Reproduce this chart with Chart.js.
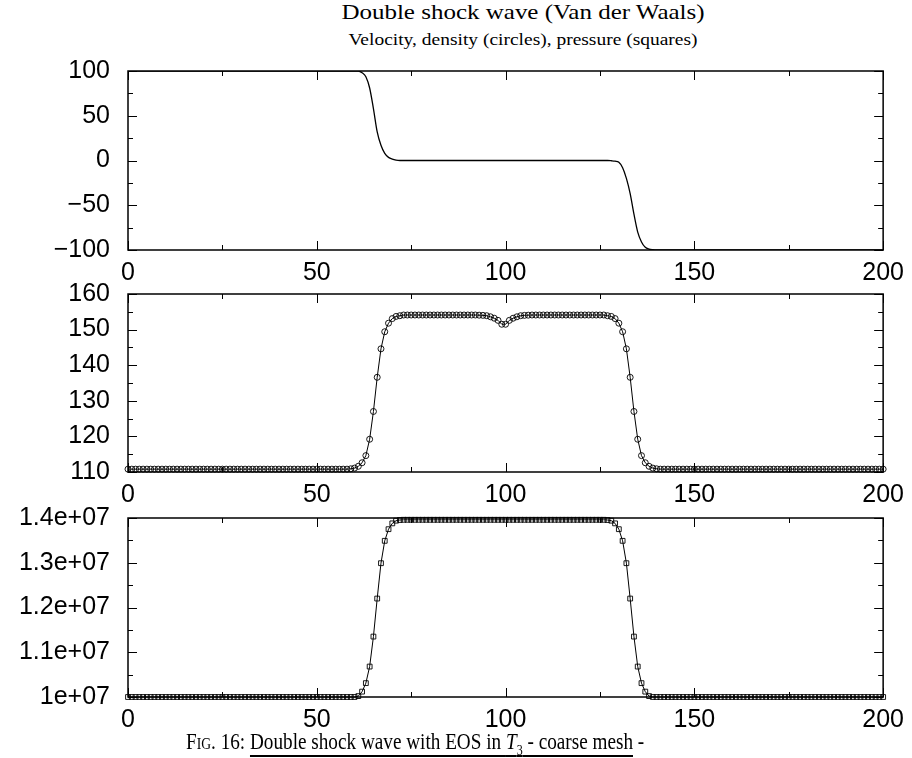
<!DOCTYPE html>
<html>
<head>
<meta charset="utf-8">
<script src="https://cdn.jsdelivr.net/npm/chart.js@4.4.1/dist/chart.umd.min.js"></script>
<style>
  html, body { margin: 0; padding: 0; background: #fff; }
  #page { position: relative; width: 912px; height: 758px; overflow: hidden; background: #fff; }
  canvas { position: absolute; left: 0; }
  .serif { position: absolute; font-family: "Liberation Serif", serif; color: #000; white-space: nowrap; line-height: 1; }
  .cap u { text-decoration-thickness: 2px; text-underline-offset: 6px; }
</style>
</head>
<body>
<div id="page">
  <div class="serif" style="left:523px; top:2px; font-size:21px; transform:translateX(-50%) scaleX(1.19);">Double shock wave (Van der Waals)</div>
  <div class="serif" style="left:523px; top:32px; font-size:16.5px; transform:translateX(-50%) scaleX(1.18);">Velocity, density (circles), pressure (squares)</div>
  <canvas id="vel" width="912" height="248" style="top:37px"></canvas>
  <canvas id="rho" width="912" height="247" style="top:260px"></canvas>
  <canvas id="prs" width="912" height="248" style="top:484px"></canvas>
  <div class="serif cap" style="left:186px; top:729px; font-size:24px; transform-origin:0 50%; transform:scaleX(0.80);"><span style="font-variant:small-caps">Fig</span>. 16: <u>Double shock wave with EOS in <i>T</i><sub style="font-size:15px">3</sub> - coarse mesh</u> -</div>
</div>
<script>
// mesh abscissae (cell index)
const xs = [
  0,1,2,3,4,5,6,7,8,9,
  10,11,12,13,14,15,16,17,18,19,
  20,21,22,23,24,25,26,27,28,29,
  30,31,32,33,34,35,36,37,38,39,
  40,41,42,43,44,45,46,47,48,49,
  50,51,52,53,54,55,56,57,58,59,
  60,61,62,63,64,65,66,67,68,69,
  70,71,72,73,74,75,76,77,78,79,
  80,81,82,83,84,85,86,87,88,89,
  90,91,92,93,94,95,96,97,98,99,
  100,101,102,103,104,105,106,107,108,109,
  110,111,112,113,114,115,116,117,118,119,
  120,121,122,123,124,125,126,127,128,129,
  130,131,132,133,134,135,136,137,138,139,
  140,141,142,143,144,145,146,147,148,149,
  150,151,152,153,154,155,156,157,158,159,
  160,161,162,163,164,165,166,167,168,169,
  170,171,172,173,174,175,176,177,178,179,
  180,181,182,183,184,185,186,187,188,189,
  190,191,192,193,194,195,196,197,198,199,
  200
];

const velocity = [
  100,100,100,100,100,100,100,100,100,100,
  100,100,100,100,100,100,100,100,100,100,
  100,100,100,100,100,100,100,100,100,100,
  100,100,100,100,100,100,100,100,100,100,
  100,100,100,100,100,100,100,100,100,100,
  100,100,100,100,100,100,100,100,100,100,
  100,100,98,93.6,81,58,32,17,8,3.5,
  1.5,0.4,0,0,0,0,0,0,0,0,
  0,0,0,0,0,0,0,0,0,0,
  0,0,0,0,0,0,0,0,0,0,
  0,0,0,0,0,0,0,0,0,0,
  0,0,0,0,0,0,0,0,0,0,
  0,0,0,0,0,0,0,0,-0.3,-0.8,
  -2,-8,-20,-37,-60,-80,-91,-97,-99,-99.7,
  -100,-100,-100,-100,-100,-100,-100,-100,-100,-100,
  -100,-100,-100,-100,-100,-100,-100,-100,-100,-100,
  -100,-100,-100,-100,-100,-100,-100,-100,-100,-100,
  -100,-100,-100,-100,-100,-100,-100,-100,-100,-100,
  -100,-100,-100,-100,-100,-100,-100,-100,-100,-100,
  -100,-100,-100,-100,-100,-100,-100,-100,-100,-100,
  -100
];

const density = [
  110.8,110.8,110.8,110.8,110.8,110.8,110.8,110.8,110.8,110.8,
  110.8,110.8,110.8,110.8,110.8,110.8,110.8,110.8,110.8,110.8,
  110.8,110.8,110.8,110.8,110.8,110.8,110.8,110.8,110.8,110.8,
  110.8,110.8,110.8,110.8,110.8,110.8,110.8,110.8,110.8,110.8,
  110.8,110.8,110.8,110.8,110.8,110.8,110.8,110.8,110.8,110.8,
  110.8,110.8,110.8,110.8,110.8,110.8,110.8,110.8,110.8,110.9,
  111.1,111.6,112.6,114.6,119.2,127,136.6,144.6,149.4,151.8,
  153.1,153.7,153.9,154.1,154.1,154.1,154.1,154.1,154.1,154.1,
  154.1,154.1,154.1,154.1,154.1,154.1,154.1,154.1,154.1,154.1,
  154.1,154.1,154.1,154.05,154,153.9,153.6,153.2,152.6,151.5,
  151.5,152.6,153.2,153.6,153.9,154,154.05,154.1,154.1,154.1,
  154.1,154.1,154.1,154.1,154.1,154.1,154.1,154.1,154.1,154.1,
  154.1,154.1,154.1,154.1,154.1,154.1,154.1,153.9,153.7,153.1,
  151.8,149.4,144.6,136.6,127,119.2,114.6,112.6,111.6,111.1,
  110.9,110.8,110.8,110.8,110.8,110.8,110.8,110.8,110.8,110.8,
  110.8,110.8,110.8,110.8,110.8,110.8,110.8,110.8,110.8,110.8,
  110.8,110.8,110.8,110.8,110.8,110.8,110.8,110.8,110.8,110.8,
  110.8,110.8,110.8,110.8,110.8,110.8,110.8,110.8,110.8,110.8,
  110.8,110.8,110.8,110.8,110.8,110.8,110.8,110.8,110.8,110.8,
  110.8,110.8,110.8,110.8,110.8,110.8,110.8,110.8,110.8,110.8,
  110.8
];

const pressure = [
  1e7,1e7,1e7,1e7,1e7,1e7,1e7,1e7,1e7,1e7,
  1e7,1e7,1e7,1e7,1e7,1e7,1e7,1e7,1e7,1e7,
  1e7,1e7,1e7,1e7,1e7,1e7,1e7,1e7,1e7,1e7,
  1e7,1e7,1e7,1e7,1e7,1e7,1e7,1e7,1e7,1e7,
  1e7,1e7,1e7,1e7,1e7,1e7,1e7,1e7,1e7,1e7,
  1e7,1e7,1e7,1e7,1e7,1e7,1e7,1e7,1e7,1e7,
  1e7,1.002e7,1.012e7,1.031e7,1.068e7,1.135e7,1.22e7,1.299e7,1.349e7,1.375e7,
  1.388e7,1.394e7,1.3955e7,1.396e7,1.396e7,1.396e7,1.396e7,1.396e7,1.396e7,1.396e7,
  1.396e7,1.396e7,1.396e7,1.396e7,1.396e7,1.396e7,1.396e7,1.396e7,1.396e7,1.396e7,
  1.396e7,1.396e7,1.396e7,1.396e7,1.396e7,1.396e7,1.396e7,1.396e7,1.396e7,1.396e7,
  1.396e7,1.396e7,1.396e7,1.396e7,1.396e7,1.396e7,1.396e7,1.396e7,1.396e7,1.396e7,
  1.396e7,1.396e7,1.396e7,1.396e7,1.396e7,1.396e7,1.396e7,1.396e7,1.396e7,1.396e7,
  1.396e7,1.396e7,1.396e7,1.396e7,1.396e7,1.396e7,1.396e7,1.3955e7,1.394e7,1.388e7,
  1.375e7,1.349e7,1.299e7,1.22e7,1.135e7,1.068e7,1.031e7,1.012e7,1.002e7,1e7,
  1e7,1e7,1e7,1e7,1e7,1e7,1e7,1e7,1e7,1e7,
  1e7,1e7,1e7,1e7,1e7,1e7,1e7,1e7,1e7,1e7,
  1e7,1e7,1e7,1e7,1e7,1e7,1e7,1e7,1e7,1e7,
  1e7,1e7,1e7,1e7,1e7,1e7,1e7,1e7,1e7,1e7,
  1e7,1e7,1e7,1e7,1e7,1e7,1e7,1e7,1e7,1e7,
  1e7,1e7,1e7,1e7,1e7,1e7,1e7,1e7,1e7,1e7,
  1e7
];

// labelled ticks
const xTickLabels = [0, 50, 100, 150, 200];
const velTickLabels = [100, 50, 0, -50, -100];
const rhoTickLabels = [160, 150, 140, 130, 120, 110];
const prsTickLabels = [1.4e7, 1.3e7, 1.2e7, 1.1e7, 1e7];

Chart.defaults.font.family = '"Liberation Sans", Arial, sans-serif';
Chart.defaults.font.size = 25;
Chart.defaults.color = '#000';

// gnuplot-like frame with inward ticks on all four sides
const frameTicks = {
  id: 'frameTicks',
  afterDatasetsDraw(chart) {
    const { ctx, chartArea: a, scales: { x, y } } = chart;
    ctx.save();
    ctx.strokeStyle = '#000';
    ctx.lineWidth = 1;
    ctx.beginPath();
    x.ticks.forEach(t => {
      const px = Math.round(x.getPixelForValue(t.value)) + 0.5;
      const len = t.label !== '' ? 9 : 5;
      ctx.moveTo(px, a.bottom); ctx.lineTo(px, a.bottom - len);
      ctx.moveTo(px, a.top); ctx.lineTo(px, a.top + len);
    });
    y.ticks.forEach(t => {
      const py = Math.round(y.getPixelForValue(t.value)) + 0.5;
      const len = t.label !== '' ? 9 : 5;
      ctx.moveTo(a.left, py); ctx.lineTo(a.left + len, py);
      ctx.moveTo(a.right, py); ctx.lineTo(a.right - len, py);
    });
    ctx.stroke();
    ctx.lineWidth = 1.5;
    ctx.strokeRect(a.left, a.top, a.right - a.left, a.bottom - a.top);
    ctx.restore();
  }
};

function panel(id, dataset, y) {
  new Chart(document.getElementById(id), {
    type: 'line',
    data: { labels: xs, datasets: [dataset] },
    options: {
      responsive: false,
      animation: false,
      devicePixelRatio: 1,
      layout: { padding: { top: 34, right: 27, left: 0, bottom: 0 } },
      plugins: { legend: { display: false }, tooltip: { enabled: false } },
      scales: {
        x: {
          type: 'linear', min: 0, max: 200,
          grid: { display: false, drawTicks: false }, border: { display: false },
          afterFit: s => { s.height = 35; },
          ticks: {
            stepSize: 25, padding: 8, maxRotation: 0, autoSkip: false,
            callback: v => xTickLabels.includes(v) ? String(v) : ''
          }
        },
        y: {
          min: y.min, max: y.max,
          grid: { display: false, drawTicks: false }, border: { display: false },
          afterFit: s => { s.width = 128; },
          ticks: {
            stepSize: y.step, padding: 18, autoSkip: false,
            callback: v => y.labels.includes(v) ? y.fmt(v) : ''
          }
        }
      }
    },
    plugins: [frameTicks]
  });
}

panel('vel', {
  data: velocity,
  borderColor: '#000', borderWidth: 1.3,
  pointRadius: 0, cubicInterpolationMode: 'monotone'
}, {
  min: -100, max: 100, step: 25, labels: velTickLabels,
  fmt: v => v < 0 ? '\u2212' + Math.abs(v) : String(v)
});

panel('rho', {
  data: density,
  borderColor: '#000', borderWidth: 1, clip: false,
  pointStyle: 'circle', pointRadius: 3, pointBorderWidth: 0.9,
  pointBorderColor: '#000', pointBackgroundColor: 'rgba(0,0,0,0)'
}, {
  min: 110, max: 160, step: 5, labels: rhoTickLabels,
  fmt: v => String(v)
});

panel('prs', {
  data: pressure,
  borderColor: '#000', borderWidth: 1, clip: false,
  pointStyle: 'rect', pointRadius: 3.4, pointBorderWidth: 0.9,
  pointBorderColor: '#000', pointBackgroundColor: 'rgba(0,0,0,0)'
}, {
  min: 1e7, max: 1.4e7, step: 5e5, labels: prsTickLabels,
  fmt: v => {
    const m = v / 1e7;
    return (Number.isInteger(m) ? m : m.toFixed(1)) + 'e+07';
  }
});
</script>
</body>
</html>
